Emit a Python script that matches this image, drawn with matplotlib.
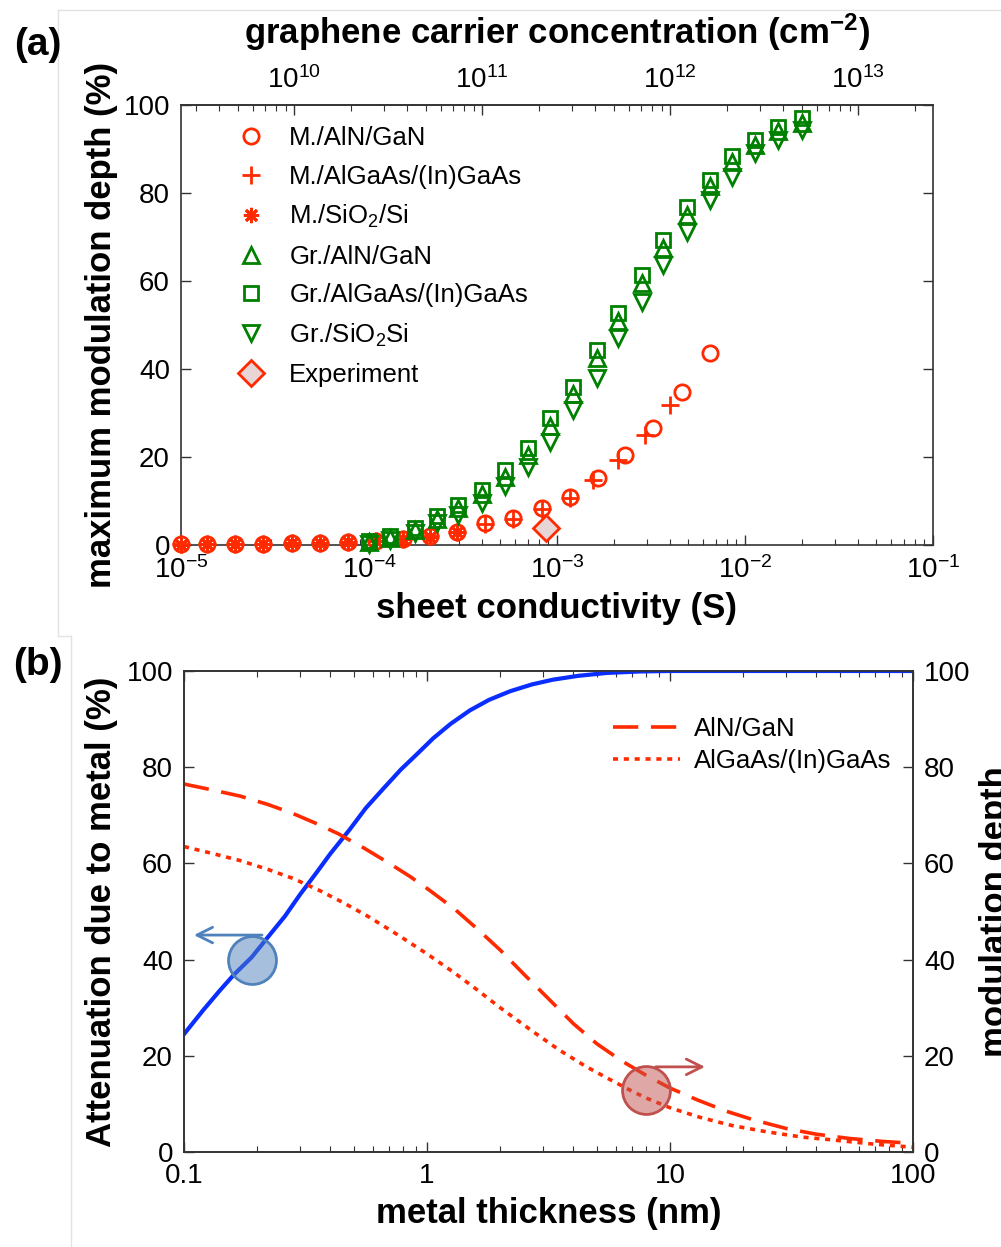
import numpy as np
import matplotlib
matplotlib.use('Agg')
import matplotlib.pyplot as plt
from matplotlib.lines import Line2D
from matplotlib.ticker import LogLocator, FixedLocator, FuncFormatter, NullFormatter

plt.rcParams['font.family'] = ['Liberation Sans', 'DejaVu Sans']
plt.rcParams['mathtext.fontset'] = 'custom'
plt.rcParams['mathtext.rm'] = 'Liberation Sans'
plt.rcParams['mathtext.bf'] = 'Liberation Sans:bold'
plt.rcParams['mathtext.it'] = 'Liberation Sans:italic'

RED = '#FF2A00'
GREEN = '#008000'
BLUE = '#0A2EFF'

# ---- panel (a): modulation depth vs sheet conductivity ----
sig_m = [1.0e-5, 1.37e-5, 1.94e-5, 2.73e-5, 3.89e-5, 5.48e-5, 7.73e-5, 1.09e-4, 1.52e-4, 2.11e-4,
         2.94e-4, 4.14e-4, 5.83e-4, 8.32e-4, 1.17e-3, 1.65e-3, 2.30e-3, 3.24e-3, 4.62e-3, 6.52e-3]
md_m_aln = [0.15, 0.2, 0.25, 0.3, 0.4, 0.55, 0.75, 1.0, 1.4, 2.0,
            3.0, 4.9, 6.1, 8.3, 10.9, 15.3, 20.4, 26.6, 34.8, 43.6]
sig_m_gaas = [1.0e-5, 1.37e-5, 1.94e-5, 2.73e-5, 3.89e-5, 5.48e-5, 7.73e-5, 1.09e-4, 1.52e-4, 2.11e-4,
              2.94e-4, 4.14e-4, 5.83e-4, 8.32e-4, 1.17e-3, 1.55e-3, 2.11e-3, 2.94e-3, 3.99e-3]
md_m_gaas = [0.15, 0.2, 0.25, 0.3, 0.4, 0.55, 0.75, 1.0, 1.4, 2.0,
             3.0, 4.8, 6.0, 8.1, 10.6, 14.8, 19.3, 25.0, 31.8]
sig_m_si = [1.0e-5, 1.37e-5, 1.94e-5, 2.73e-5, 3.89e-5, 5.48e-5, 7.73e-5, 1.09e-4, 1.52e-4, 2.11e-4, 2.94e-4]
md_m_si = [0.1, 0.15, 0.2, 0.25, 0.35, 0.5, 0.7, 0.95, 1.3, 1.9, 2.9]

sig_g = [1.0e-4, 1.29e-4, 1.76e-4, 2.30e-4, 2.97e-4, 3.99e-4, 5.29e-4, 7.01e-4, 9.18e-4, 1.22e-3,
         1.63e-3, 2.11e-3, 2.83e-3, 3.66e-3, 4.91e-3, 6.52e-3, 8.53e-3, 1.13e-2, 1.50e-2, 2.01e-2]
md_g_aln = [0.6, 1.7, 3.4, 6.0, 8.3, 11.5, 15.5, 20.5, 27.0, 34.3,
            42.5, 51.0, 59.5, 67.5, 75.0, 81.5, 87.0, 91.0, 94.0, 96.0]
md_g_gaas = [0.8, 2.0, 3.8, 6.5, 9.0, 12.5, 17.0, 22.0, 28.8, 36.0,
             44.3, 52.7, 61.4, 69.3, 76.9, 83.0, 88.3, 92.0, 95.1, 97.0]
md_g_si = [0.3, 1.2, 2.8, 5.0, 6.8, 9.5, 13.3, 17.8, 23.5, 30.7,
           37.9, 47.0, 55.3, 63.6, 71.2, 78.4, 83.7, 89.0, 92.0, 94.3]

sig_exp = [8.7e-4]
md_exp = [3.9]

# graphene mobility used for the top axis (cm^2/Vs)
q = 1.602e-19
mu = 25000.0

# ---- panel (b): attenuation / modulation depth vs metal thickness ----
t_att = [0.10, 0.12, 0.14, 0.16, 0.19, 0.22, 0.26, 0.30, 0.35, 0.40, 0.48, 0.56, 0.66, 0.78,
         0.90, 1.06, 1.25, 1.50, 1.80, 2.2, 2.7, 3.3, 4.2, 5.5, 7.5, 10, 20, 100]
att = [24.5, 29.5, 33.5, 36.8, 40.5, 44.5, 49.0, 53.5, 58.0, 62.0, 67.0, 71.5, 75.5, 79.5,
       82.5, 86.0, 89.0, 91.8, 94.0, 95.8, 97.2, 98.2, 99.0, 99.6, 99.9, 100, 100, 100]

t_aln = [0.10, 0.13, 0.17, 0.22, 0.28, 0.35, 0.43, 0.55, 0.70, 0.85, 1.0, 1.3, 1.6, 2.0, 2.5,
         3.2, 4.0, 5.0, 6.3, 8.0, 10, 13, 17, 22, 30, 40, 55, 75, 100]
md_aln = [76.5, 75.3, 74.0, 72.3, 70.4, 68.3, 66.2, 63.2, 60.0, 57.3, 54.8, 50.5, 46.5, 42.0, 37.0,
          31.6, 26.7, 22.5, 19.0, 15.9, 13.3, 10.8, 8.5, 6.7, 4.9, 3.7, 2.8, 2.2, 1.8]

t_gaas = [0.10, 0.13, 0.17, 0.22, 0.28, 0.36, 0.45, 0.58, 0.75, 1.0, 1.3, 1.6, 2.0, 2.7, 3.5,
          4.5, 5.5, 7.0, 8.0, 10, 13.3, 18, 25, 35, 47, 70, 100]
md_gaas = [63.5, 62.1, 60.6, 58.8, 56.9, 54.4, 51.9, 48.8, 45.3, 41.2, 37.2, 33.8, 30.0, 25.2, 21.2,
           17.8, 15.4, 12.6, 11.2, 9.2, 7.2, 5.5, 4.2, 3.1, 2.5, 1.6, 1.0]

fig = plt.figure(figsize=(10.01, 12.47), dpi=100)

# faint frame lines of the original composite
for xs, ys in [([58, 58], [10, 636]), ([58, 1001], [10, 10]), ([58, 71], [636, 636]), ([71, 71], [636, 1247])]:
    fig.add_artist(Line2D([x / 1001 for x in xs], [1 - y / 1247 for y in ys],
                          transform=fig.transFigure, color='#E2E2E2', lw=1))

TICK = 20
LAB = 25
LEG = 18.5

def style(ax):
    for s in ax.spines.values():
        s.set_color('#333333')
        s.set_linewidth(1.2)
    ax.tick_params(which='both', direction='in', labelsize=TICK, color='#333333', pad=8)
    ax.tick_params(which='major', length=7, width=1)
    ax.tick_params(which='minor', length=4, width=0.8)

# === Panel (a) ===
ax1 = fig.add_axes([181 / 1001, 1 - 545 / 1247, 752 / 1001, 440 / 1247])
ax1.set_xscale('log')
kw = dict(ls='none', clip_on=False, mew=2)
ax1.plot(sig_m, md_m_aln, marker='o', ms=11, mfc='none', mec=RED, label='M./AlN/GaN', zorder=3, **kw)
ax1.plot(sig_m_gaas, md_m_gaas, marker='+', ms=13, mec=RED, label='M./AlGaAs/(In)GaAs', zorder=3, **kw)
ax1.plot(sig_m_si, md_m_si, marker=(8, 2, 0), ms=11, mec=RED, label='M./SiO$_2$/Si', zorder=3, **kw)
ax1.plot(sig_g, md_g_aln, marker='^', ms=12, mfc='none', mec=GREEN, label='Gr./AlN/GaN', zorder=4, **kw)
ax1.plot(sig_g, md_g_gaas, marker='s', ms=10, mfc='none', mec=GREEN, label='Gr./AlGaAs/(In)GaAs', zorder=4, **kw)
ax1.plot(sig_g, md_g_si, marker='v', ms=12, mfc='none', mec=GREEN, label='Gr./SiO$_2$Si', zorder=4, **kw)
ax1.plot(sig_exp, md_exp, marker='D', ms=13, mfc='#E8D6D6', mec=RED, label='Experiment', zorder=5, **kw)

ax1.set_xlim(1e-5, 1e-1)
ax1.set_ylim(0, 100)
ax1.set_yticks([0, 20, 40, 60, 80, 100])
ax1.xaxis.set_major_locator(LogLocator(base=10, numticks=10))
ax1.xaxis.set_minor_locator(LogLocator(base=10, subs=np.arange(2, 10), numticks=40))
style(ax1)
ax1.tick_params(right=True, top=False)
ax1.set_xlabel('sheet conductivity (S)', fontsize=LAB, fontweight='bold', labelpad=6)
ax1.set_ylabel('maximum modulation depth (%)', fontsize=LAB, fontweight='bold')
ax1.yaxis.set_label_coords(-0.084, 0.5)

sec = ax1.secondary_xaxis('top', functions=(lambda s: s / (q * mu), lambda n: n * q * mu))
sec.xaxis.set_major_locator(LogLocator(base=10, numticks=10))
sec.xaxis.set_minor_locator(LogLocator(base=10, subs=np.arange(2, 10), numticks=40))
sec.tick_params(which='both', direction='in', labelsize=TICK, color='#333333', pad=8)
sec.tick_params(which='major', length=7, width=1)
sec.tick_params(which='minor', length=4, width=0.8)
sec.spines['top'].set_color('#333333')
sec.spines['top'].set_linewidth(1.2)
sec.set_xlabel(r'graphene carrier concentration (cm$^{\mathbf{-2}}$)', fontsize=LAB,
               fontweight='bold', labelpad=16)

ax1.legend(loc='upper left', bbox_to_anchor=(0.045, 0.975), frameon=False, fontsize=LEG,
           handletextpad=0.5, labelspacing=0.56, borderaxespad=0, numpoints=1)

fig.text(38 / 1001, 1 - 45 / 1247, '(a)', fontsize=28, fontweight='bold', ha='center', va='center')

# === Panel (b) ===
ax2 = fig.add_axes([184 / 1001, 1 - 1152 / 1247, 729 / 1001, 481 / 1247])
ax2.set_xscale('log')
ax2r = ax2.twinx()
ax2.plot(t_att, att, color=BLUE, lw=3, zorder=3)
ax2r.plot(t_aln, md_aln, color=RED, lw=2.6, dashes=(7, 3.5), label='AlN/GaN')
ax2r.plot(t_gaas, md_gaas, color=RED, lw=2.6, dashes=(1.4, 1.6), label='AlGaAs/(In)GaAs')

for a in (ax2, ax2r):
    a.set_xlim(0.1, 100)
    a.set_ylim(0, 100)
    a.set_yticks([0, 20, 40, 60, 80, 100])
ax2.xaxis.set_major_locator(FixedLocator([0.1, 1, 10, 100]))
ax2.xaxis.set_minor_locator(LogLocator(base=10, subs=np.arange(2, 10), numticks=40))
ax2.xaxis.set_major_formatter(FuncFormatter(lambda v, p: f'{v:g}'))
ax2.xaxis.set_minor_formatter(NullFormatter())
style(ax2)
style(ax2r)
ax2.tick_params(which='both', top=True, right=False)
ax2.set_xlabel('metal thickness (nm)', fontsize=LAB, fontweight='bold', labelpad=6)
ax2.set_ylabel('Attenuation due to metal (%)', fontsize=LAB, fontweight='bold')
ax2.yaxis.set_label_coords(-0.09, 0.5)
ax2r.set_ylabel('modulation depth', fontsize=LAB, fontweight='bold', rotation=90)
ax2r.yaxis.set_label_coords(1.09, 0.5)

# annotation circles and arrows
ax2.annotate('', xy=(0.107, 45.1), xytext=(0.215, 45.1),
             arrowprops=dict(arrowstyle='->', color='#4F81BD', lw=2, mutation_scale=28))
ax2.plot([0.19], [40], 'o', ms=34.5, mfc=(0.31, 0.506, 0.741, 0.5), mec='#4F81BD', mew=2, zorder=4)
ax2r.annotate('', xy=(14.3, 17.7), xytext=(8.5, 17.7),
              arrowprops=dict(arrowstyle='->', color='#C0504D', lw=2, mutation_scale=28))
ax2r.plot([8.0], [12.9], 'o', ms=34.5, mfc=(0.753, 0.314, 0.302, 0.5), mec='#C0504D', mew=2, zorder=4)

ax2r.legend(loc='upper right', bbox_to_anchor=(0.985, 0.925), frameon=False, fontsize=LEG,
            handlelength=2.6, handletextpad=0.55, labelspacing=0.3, borderaxespad=0)

fig.text(38 / 1001, 1 - 665 / 1247, '(b)', fontsize=28, fontweight='bold', ha='center', va='center')

fig.savefig('out.png', dpi=100)
